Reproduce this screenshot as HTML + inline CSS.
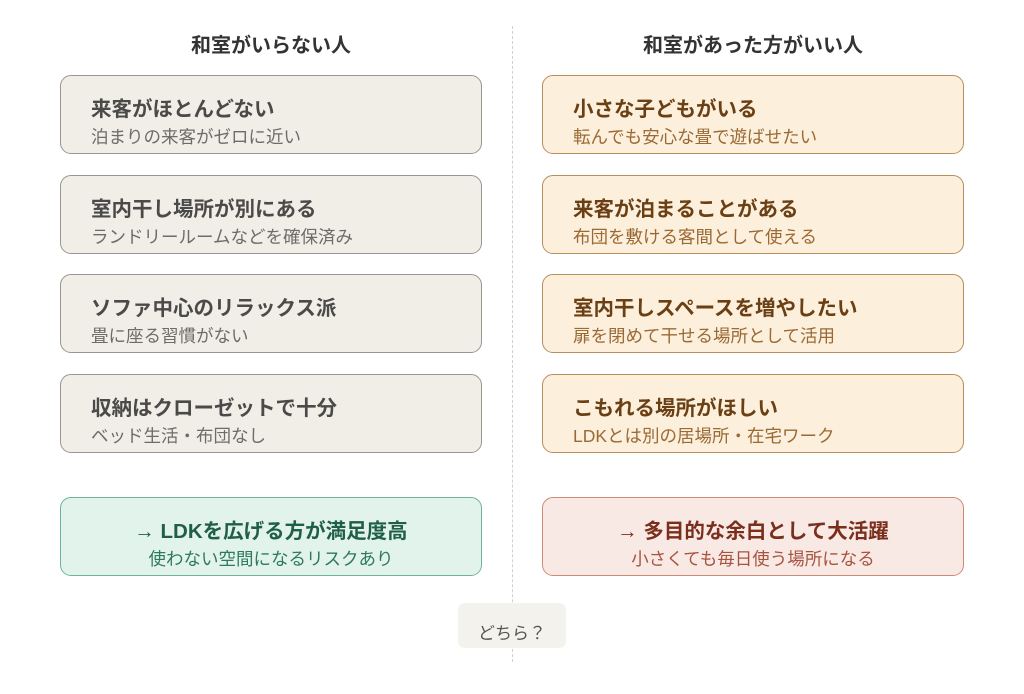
<!DOCTYPE html>
<html><head><meta charset="utf-8"><style>
body{margin:0;width:1024px;height:694px;background:#fff;position:relative;font-family:"Liberation Sans","Noto Sans CJK JP",sans-serif;overflow:hidden}
.h{position:absolute;top:33px;font-size:20px;line-height:26px;font-weight:bold;color:#333;width:422px;text-align:center}
.b{position:absolute;width:420px;height:77px;border-radius:11px;border:1px solid;box-sizing:content-box}
.b .t{position:absolute;left:30px;top:21px;font-size:20.5px;font-weight:bold;line-height:26px;white-space:nowrap}
.b .s{position:absolute;left:30px;top:50px;font-size:17.5px;line-height:22px;white-space:nowrap}
.l{left:60px;background:#f1eee8;border-color:#999591}
.l .t{color:#4a4a48}.l .s{color:#6e6c69}
.r{left:542px;background:#fcefdc;border-color:#b88e5e}
.r .t{color:#6b3f14}.r .s{color:#9a6a35}
.c .t,.c .s{left:0;right:0;text-align:center}
</style></head><body>
<div style="position:absolute;left:512px;top:26px;height:636px;width:0;border-left:1.5px dashed #d0d0d0"></div>
<div class="h" style="left:60px">和室がいらない人</div>
<div class="h" style="left:542px">和室があった方がいい人</div>

<div class="b l" style="top:75px"><div class="t">来客がほとんどない</div><div class="s">泊まりの来客がゼロに近い</div></div>
<div class="b l" style="top:175px"><div class="t">室内干し場所が別にある</div><div class="s">ランドリールームなどを確保済み</div></div>
<div class="b l" style="top:274px"><div class="t">ソファ中心のリラックス派</div><div class="s">畳に座る習慣がない</div></div>
<div class="b l" style="top:374px"><div class="t">収納はクローゼットで十分</div><div class="s">ベッド生活・布団なし</div></div>

<div class="b r" style="top:75px"><div class="t">小さな子どもがいる</div><div class="s">転んでも安心な畳で遊ばせたい</div></div>
<div class="b r" style="top:175px"><div class="t">来客が泊まることがある</div><div class="s">布団を敷ける客間として使える</div></div>
<div class="b r" style="top:274px"><div class="t">室内干しスペースを増やしたい</div><div class="s">扉を閉めて干せる場所として活用</div></div>
<div class="b r" style="top:374px"><div class="t">こもれる場所がほしい</div><div class="s">LDKとは別の居場所・在宅ワーク</div></div>

<div class="b c" style="left:60px;top:497px;background:#e2f3ec;border-color:#6fb399"><div class="t" style="color:#1f5e47">→ LDKを広げる方が満足度高</div><div class="s" style="color:#2f7a5d">使わない空間になるリスクあり</div></div>
<div class="b c" style="left:542px;top:497px;background:#f9e9e5;border-color:#cf8a76"><div class="t" style="color:#7a2e1c">→ 多目的な余白として大活躍</div><div class="s" style="color:#a65440">小さくても毎日使う場所になる</div></div>

<div style="position:absolute;left:458px;top:603px;width:108px;height:45px;background:#f3f2ec;border-radius:7px;text-align:center;line-height:22px;padding-top:20px;box-sizing:border-box;font-size:17px;color:#555">どちら？</div>
</body></html>
